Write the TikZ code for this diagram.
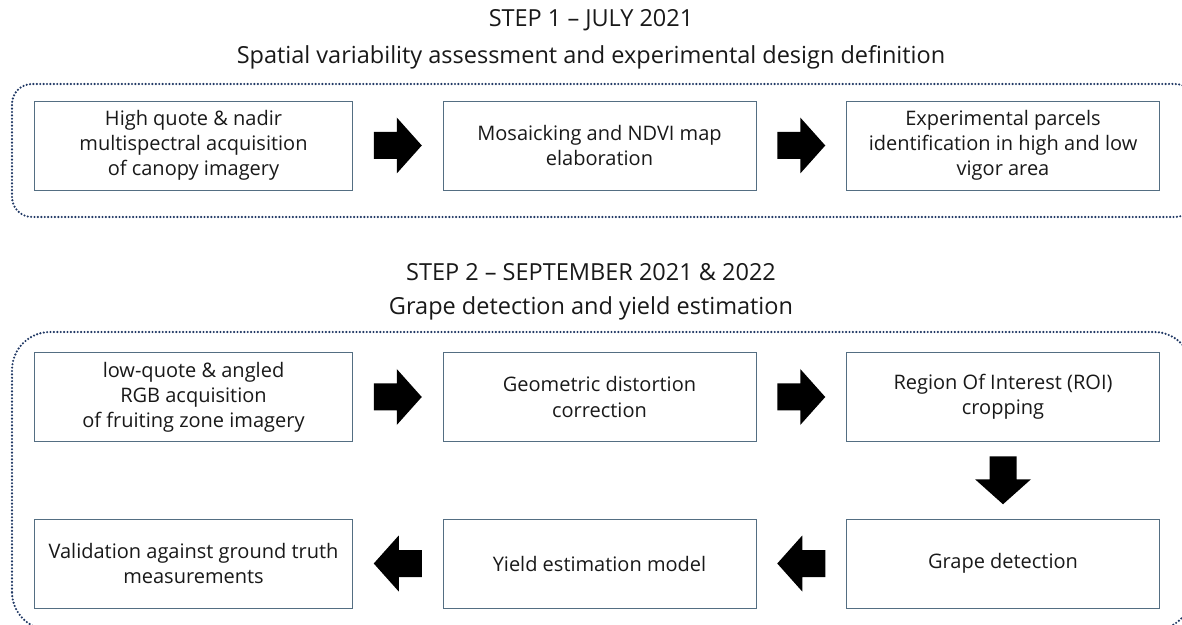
\documentclass[tikz,border=0pt]{standalone}
\usepackage{fontspec}
\setmainfont{Open Sans}
\usetikzlibrary{calc}
\definecolor{frameblue}{RGB}{32,56,100}
\definecolor{boxline}{RGB}{84,110,130}
\definecolor{txt}{RGB}{25,25,25}
\begin{document}
\begin{tikzpicture}[x=1pt,y=1pt,
  stepbox/.style={draw=boxline, line width=0.9pt, minimum width=313pt, minimum height=89pt,
    align=center, font=\fontsize{20}{25}\selectfont, text=txt, inner sep=0pt},
  frame/.style={draw=frameblue, line width=2.4pt, dash pattern=on 0pt off 3.4pt, line cap=round},
  title/.style={font=\fontsize{23.5}{25}\selectfont, text=txt, inner sep=0pt},
  blockarrow/.pic={\fill[black] (-24,-13.5) -- (-1,-13.5) -- (-1,-28) -- (24,0) -- (-1,28) -- (-1,13.5) -- (-24,13.5) -- cycle;}]
\useasboundingbox (0,0) rectangle (1182,624);
\clip (0,0) rectangle (1182,624);
\fill[white] (0,0) rectangle (1182,624);

% titles
\node[title] (t1) at (591,604) {STEP 1 – JULY 2021};
\node[title] (s1) at (591,567) {Spatial variability assessment and experimental design definition};
\node[title] (t2) at (591,352) {STEP 2 – SEPTEMBER 2021 \& 2022};
\node[title] (s2) at (591,316) {Grape detection and yield estimation};

% frames
\draw[frame, rounded corners=20pt] (12,407) rectangle (1195,540);
\draw[frame, rounded corners=38pt] (12,-6) rectangle (1192,292);

% row 1
\node[stepbox, minimum width=318pt] (a1) at (193.5,478.5) {High quote \& nadir\\multispectral acquisition\\of canopy imagery};
\node[stepbox] (a2) at (599.5,478.5) {Mosaicking and NDVI map\\elaboration};
\node[stepbox] (a3) at (1003,478.5) {Experimental parcels\\identification in high and low\\vigor area};

% row 2
\node[stepbox, minimum width=318pt] (b1) at (193.5,227) {low-quote \& angled\\RGB acquisition\\of fruiting zone imagery};
\node[stepbox] (b2) at (599.5,227) {Geometric distortion\\correction};
\node[stepbox] (b3) at (1003,227) {Region Of Interest (ROI)\\cropping};

% row 3
\node[stepbox, minimum width=318pt] (c1) at (193.5,60.5) {Validation against ground truth\\measurements};
\node[stepbox] (c2) at (599.5,60.5) {Yield estimation model};
\node[stepbox] (c3) at (1003,60.5) {Grape detection};

% block arrows
\path pic at ($(a1.east)!0.5!(a2.west)$) {blockarrow};
\path pic at ($(a2.east)!0.5!(a3.west)$) {blockarrow};
\path pic at ($(b1.east)!0.5!(b2.west)$) {blockarrow};
\path pic at ($(b2.east)!0.5!(b3.west)$) {blockarrow};
\path pic[rotate=-90] at ($(b3.south)!0.5!(c3.north)$) {blockarrow};
\path pic[rotate=180] at ($(c3.west)!0.5!(c2.east)$) {blockarrow};
\path pic[rotate=180] at ($(c2.west)!0.5!(c1.east)$) {blockarrow};
\end{tikzpicture}
\end{document}
